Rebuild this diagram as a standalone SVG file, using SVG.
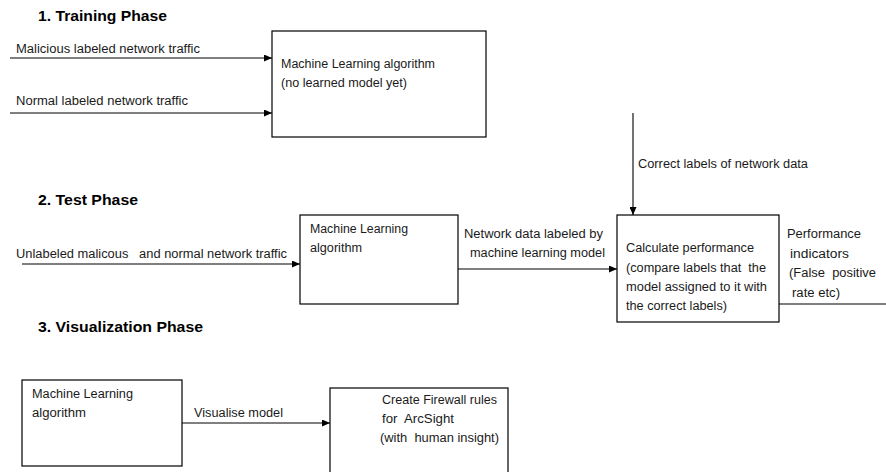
<svg xmlns="http://www.w3.org/2000/svg" width="886" height="472" viewBox="0 0 886 472">
  <style>
    .box { fill: #ffffff; stroke: #000000; stroke-width: 1.2; }
    .t { font-family: "Liberation Sans", Arial, sans-serif; font-size: 12.5px; fill: #1a1a1a; }
    .h { font-family: "Liberation Sans", Arial, sans-serif; font-size: 15px; font-weight: bold; fill: #000000; }
    .line { fill: none; stroke: #000000; stroke-width: 1.1; }
  </style>
  <defs>
    <marker id="arrow" markerUnits="userSpaceOnUse" markerWidth="8" markerHeight="7" refX="8" refY="3.5" orient="auto">
      <path d="M0,0 L8,3.5 L0,7 Z" fill="#000000"/>
    </marker>
  </defs>
  <rect width="886" height="472" fill="#ffffff"/>

  <!-- Phase headings -->
  <g id="headings">
    <text class="h" x="38" y="21" textLength="129" lengthAdjust="spacingAndGlyphs">1.  Training Phase</text>
    <text class="h" x="38" y="205" textLength="100" lengthAdjust="spacingAndGlyphs">2.  Test Phase</text>
    <text class="h" x="38" y="332" textLength="165" lengthAdjust="spacingAndGlyphs">3.  Visualization Phase</text>
  </g>

  <!-- Connectors -->
  <g id="connectors">
    <line class="line" x1="10" y1="58" x2="272" y2="58" marker-end="url(#arrow)"/>
    <line class="line" x1="10" y1="113" x2="272" y2="113" marker-end="url(#arrow)"/>
    <line class="line" x1="22" y1="264" x2="300" y2="264" marker-end="url(#arrow)"/>
    <line class="line" x1="458" y1="269" x2="617" y2="269" marker-end="url(#arrow)"/>
    <line class="line" x1="633" y1="113" x2="633" y2="215" marker-end="url(#arrow)"/>
    <line class="line" x1="779" y1="304" x2="886" y2="304"/>
    <line class="line" x1="182" y1="423" x2="330" y2="423" marker-end="url(#arrow)"/>
  </g>

  <!-- Connector labels -->
  <g id="labels">
    <text class="t" x="16" y="53" textLength="184" lengthAdjust="spacingAndGlyphs">Malicious labeled network traffic</text>
    <text class="t" x="16" y="105" textLength="172" lengthAdjust="spacingAndGlyphs">Normal labeled network traffic</text>
    <text class="t" x="16" y="258" textLength="271" lengthAdjust="spacingAndGlyphs" xml:space="preserve">Unlabeled malicous   and normal network traffic</text>
    <text class="t" x="464" y="238" textLength="139" lengthAdjust="spacingAndGlyphs">Network data  labeled by</text>
    <text class="t" x="470" y="257" textLength="135" lengthAdjust="spacingAndGlyphs">machine learning model</text>
    <text class="t" x="638" y="168" textLength="170" lengthAdjust="spacingAndGlyphs">Correct labels of network data</text>
    <text class="t" x="787" y="238" textLength="74" lengthAdjust="spacingAndGlyphs">Performance</text>
    <text class="t" x="790" y="258" textLength="59" lengthAdjust="spacingAndGlyphs">indicators</text>
    <text class="t" x="789" y="277" textLength="87" lengthAdjust="spacingAndGlyphs" xml:space="preserve">(False  positive</text>
    <text class="t" x="792" y="297" textLength="48" lengthAdjust="spacingAndGlyphs">rate etc)</text>
    <text class="t" x="194" y="417" textLength="89" lengthAdjust="spacingAndGlyphs">Visualise model</text>
  </g>

  <!-- Training: ML algorithm -->
  <g id="ml-training">
    <rect class="box" x="272" y="31" width="214" height="106"/>
    <text class="t" x="281" y="68" textLength="154" lengthAdjust="spacingAndGlyphs">Machine Learning algorithm</text>
    <text class="t" x="281" y="87" textLength="126" lengthAdjust="spacingAndGlyphs">(no learned model yet)</text>
  </g>

  <!-- Test: ML algorithm -->
  <g id="ml-test">
    <rect class="box" x="300" y="215" width="158" height="89"/>
    <text class="t" x="310" y="233" textLength="98" lengthAdjust="spacingAndGlyphs">Machine Learning</text>
    <text class="t" x="310" y="252" textLength="52" lengthAdjust="spacingAndGlyphs">algorithm</text>
  </g>

  <!-- Test: performance calculation -->
  <g id="calc-performance">
    <rect class="box" x="617" y="215" width="162" height="107"/>
    <text class="t" x="626" y="252" textLength="128" lengthAdjust="spacingAndGlyphs">Calculate performance</text>
    <text class="t" x="626" y="272" textLength="140" lengthAdjust="spacingAndGlyphs" xml:space="preserve">(compare labels that  the</text>
    <text class="t" x="626" y="291" textLength="141" lengthAdjust="spacingAndGlyphs">model assigned to it with</text>
    <text class="t" x="626" y="310" textLength="101" lengthAdjust="spacingAndGlyphs">the correct labels)</text>
  </g>

  <!-- Visualization: ML algorithm -->
  <g id="ml-visual">
    <rect class="box" x="22" y="380" width="160" height="86"/>
    <text class="t" x="32" y="398" textLength="101" lengthAdjust="spacingAndGlyphs">Machine Learning</text>
    <text class="t" x="32" y="417" textLength="54" lengthAdjust="spacingAndGlyphs">algorithm</text>
  </g>

  <!-- Visualization: firewall rules -->
  <g id="firewall-rules">
    <rect class="box" x="330" y="388" width="178" height="100"/>
    <text class="t" x="382" y="404" textLength="115" lengthAdjust="spacingAndGlyphs">Create Firewall rules</text>
    <text class="t" x="382" y="423" textLength="72" lengthAdjust="spacingAndGlyphs" xml:space="preserve">for  ArcSight</text>
    <text class="t" x="380" y="442" textLength="119" lengthAdjust="spacingAndGlyphs" xml:space="preserve">(with  human insight)</text>
  </g>
</svg>
